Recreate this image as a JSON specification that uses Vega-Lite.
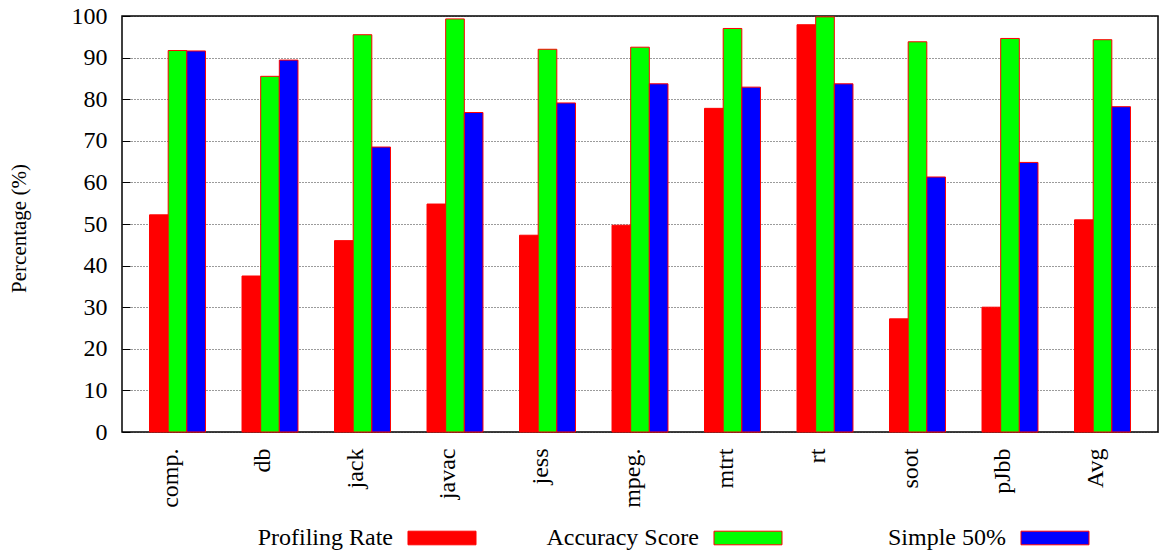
{
  "$schema": "https://vega.github.io/schema/vega-lite/v6.json",
  "width": 1036,
  "height": 416,
  "autosize": {"type": "none"},
  "padding": {"left": 122, "top": 16, "right": 1, "bottom": 120},
  "background": "white",
  "data": {
    "values": [
      {"bench": "comp.", "series": "Profiling Rate", "value": 52.2},
      {"bench": "comp.", "series": "Accuracy Score", "value": 91.7},
      {"bench": "comp.", "series": "Simple 50%", "value": 91.6},
      {"bench": "db", "series": "Profiling Rate", "value": 37.5},
      {"bench": "db", "series": "Accuracy Score", "value": 85.5},
      {"bench": "db", "series": "Simple 50%", "value": 89.4},
      {"bench": "jack", "series": "Profiling Rate", "value": 46.0},
      {"bench": "jack", "series": "Accuracy Score", "value": 95.5},
      {"bench": "jack", "series": "Simple 50%", "value": 68.5},
      {"bench": "javac", "series": "Profiling Rate", "value": 54.8},
      {"bench": "javac", "series": "Accuracy Score", "value": 99.3},
      {"bench": "javac", "series": "Simple 50%", "value": 76.8},
      {"bench": "jess", "series": "Profiling Rate", "value": 47.3},
      {"bench": "jess", "series": "Accuracy Score", "value": 92.0},
      {"bench": "jess", "series": "Simple 50%", "value": 79.1},
      {"bench": "mpeg.", "series": "Profiling Rate", "value": 49.7},
      {"bench": "mpeg.", "series": "Accuracy Score", "value": 92.5},
      {"bench": "mpeg.", "series": "Simple 50%", "value": 83.7},
      {"bench": "mtrt", "series": "Profiling Rate", "value": 77.8},
      {"bench": "mtrt", "series": "Accuracy Score", "value": 97.0},
      {"bench": "mtrt", "series": "Simple 50%", "value": 82.9},
      {"bench": "rt", "series": "Profiling Rate", "value": 97.9},
      {"bench": "rt", "series": "Accuracy Score", "value": 99.8},
      {"bench": "rt", "series": "Simple 50%", "value": 83.7},
      {"bench": "soot", "series": "Profiling Rate", "value": 27.2},
      {"bench": "soot", "series": "Accuracy Score", "value": 93.8},
      {"bench": "soot", "series": "Simple 50%", "value": 61.3},
      {"bench": "pJbb", "series": "Profiling Rate", "value": 30.0},
      {"bench": "pJbb", "series": "Accuracy Score", "value": 94.6},
      {"bench": "pJbb", "series": "Simple 50%", "value": 64.8},
      {"bench": "Avg", "series": "Profiling Rate", "value": 51.0},
      {"bench": "Avg", "series": "Accuracy Score", "value": 94.3},
      {"bench": "Avg", "series": "Simple 50%", "value": 78.2}
    ]
  },
  "mark": {"type": "bar", "stroke": "#ff0000", "strokeWidth": 1, "opacity": 1},
  "encoding": {
    "x": {
      "field": "bench",
      "type": "nominal",
      "sort": null,
      "scale": {"paddingInner": 0.395, "paddingOuter": 0.2975},
      "axis": {
        "title": null,
        "labelAngle": -90,
        "labelAlign": "right",
        "labelBaseline": "alphabetic",
        "labelPadding": 16,
        "ticks": false,
        "domain": false,
        "grid": false,
        "labelFont": "Liberation Serif",
        "labelFontSize": 24,
        "labelColor": "#000"
      }
    },
    "xOffset": {
      "field": "series",
      "type": "nominal",
      "sort": ["Profiling Rate", "Accuracy Score", "Simple 50%"],
      "scale": {"paddingInner": 0, "paddingOuter": 0}
    },
    "y": {
      "field": "value",
      "type": "quantitative",
      "scale": {"domain": [0, 100], "nice": false, "zero": true},
      "axis": {
        "title": "Percentage (%)",
        "titleFont": "Liberation Serif",
        "titleFontSize": 21,
        "titleFontWeight": "normal",
        "titleColor": "#000",
        "titleAngle": -90,
        "titleAlign": "center",
        "titleBaseline": "alphabetic",
        "titleX": -97,
        "titleY": 212,
        "values": [0, 10, 20, 30, 40, 50, 60, 70, 80, 90, 100],
        "labelFont": "Liberation Serif",
        "labelFontSize": 24,
        "labelColor": "#000",
        "labelPadding": 23,
        "tickSize": -8,
        "tickColor": "#000",
        "tickWidth": 1,
        "domain": false,
        "grid": true,
        "gridColor": "#222",
        "gridDash": [1, 2],
        "gridWidth": 1,
        "gridOpacity": 0.9
      }
    },
    "color": {
      "field": "series",
      "type": "nominal",
      "scale": {
        "domain": ["Profiling Rate", "Accuracy Score", "Simple 50%"],
        "range": ["#ff0000", "#00ff00", "#0000ff"]
      },
      "legend": {
        "title": null,
        "orient": "none",
        "direction": "horizontal",
        "legendX": 308,
        "legendY": 510,
        "padding": 0,
        "symbolType": "M-5,-1H5V1H-5Z",
        "symbolSize": 185,
        "symbolStrokeColor": "#ff0000",
        "symbolStrokeWidth": 1,
        "symbolOpacity": 1,
        "labelAlign": "right",
        "labelBaseline": "middle",
        "labelOffset": -61,
        "labelFont": "Liberation Serif",
        "labelFontSize": 24,
        "labelColor": "#000",
        "labelLimit": 400,
        "columnPadding": 67,
        "labelExpr": "(datum.label == 'Simple 50%' ? '\u200b\u00a0\u00a0\u00a0\u00a0\u00a0\u00a0' : '') + datum.label"
      }
    }
  },
  "config": {
    "view": {"stroke": "#000", "strokeWidth": 1.5},
    "font": "Liberation Serif"
  }
}
